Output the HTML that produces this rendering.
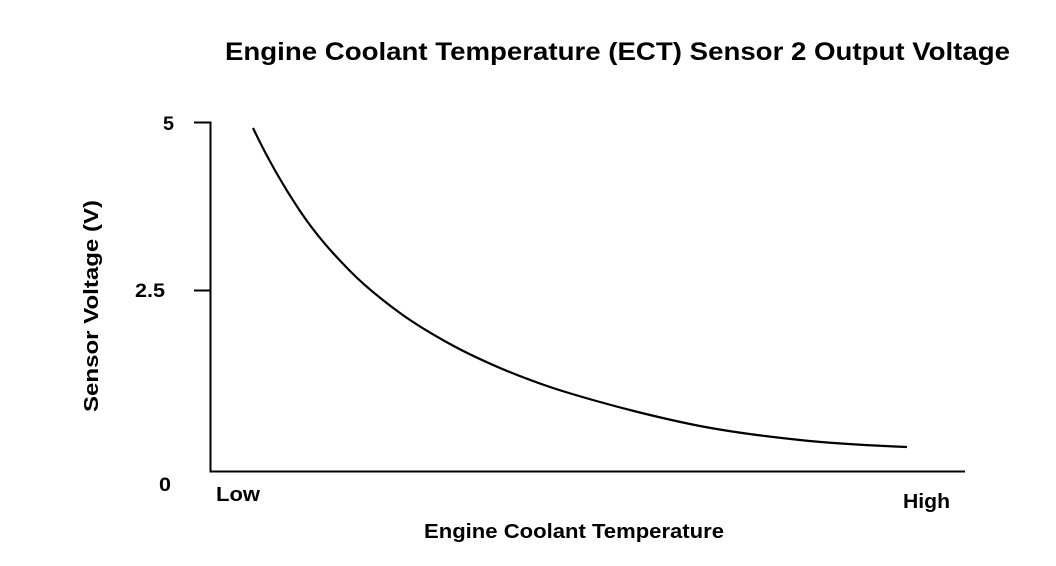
<!DOCTYPE html>
<html><head><meta charset="utf-8"><style>
html,body{margin:0;padding:0;background:#fff;width:1056px;height:566px;overflow:hidden}
text{font-family:"Liberation Sans",Arial,sans-serif;font-weight:bold;fill:#000}
</style></head><body>
<svg width="1056" height="566" viewBox="0 0 1056 566" xmlns="http://www.w3.org/2000/svg">
<text x="225" y="60" font-size="25" textLength="785" lengthAdjust="spacingAndGlyphs">Engine Coolant Temperature (ECT) Sensor 2 Output Voltage</text>
<path d="M194 122.5H210.5V471.5H965" fill="none" stroke="#000" stroke-width="2"/>
<path d="M194 290.5H210" stroke="#000" stroke-width="2"/>
<text x="163" y="130" font-size="19" textLength="11" lengthAdjust="spacingAndGlyphs">5</text>
<text x="135" y="297" font-size="19" textLength="30" lengthAdjust="spacingAndGlyphs">2.5</text>
<text x="159" y="491" font-size="19" textLength="12" lengthAdjust="spacingAndGlyphs">0</text>
<text x="216" y="501" font-size="20" textLength="44" lengthAdjust="spacingAndGlyphs">Low</text>
<text x="903" y="508" font-size="20" textLength="47" lengthAdjust="spacingAndGlyphs">High</text>
<text x="424" y="538" font-size="20" textLength="300" lengthAdjust="spacingAndGlyphs">Engine Coolant Temperature</text>
<text transform="translate(98 412) rotate(-90)" font-size="20" textLength="212" lengthAdjust="spacingAndGlyphs">Sensor Voltage (V)</text>
<path id="c" fill="none" stroke="#000" stroke-width="2.2"/>
</svg>
<script>
var P=[[253,128],[300,211],[350,271],[400,313],[450,344],[500,368],[550,387],[600,402],[650,415],[700,426],[800,440],[907,447]];
var n=P.length,d=[],m=[];
for(var i=0;i<n-1;i++)d.push((P[i+1][1]-P[i][1])/(P[i+1][0]-P[i][0]));
m[0]=d[0]*1.2;m[n-1]=d[n-2]*0.6;
for(var i=1;i<n-1;i++)m[i]=(d[i-1]*(P[i+1][0]-P[i][0])+d[i]*(P[i][0]-P[i-1][0]))/(P[i+1][0]-P[i-1][0]);
var s="M"+P[0][0]+" "+P[0][1];
for(var i=0;i<n-1;i++){var h=(P[i+1][0]-P[i][0])/3;
s+=" C"+(P[i][0]+h)+" "+(P[i][1]+m[i]*h)+" "+(P[i+1][0]-h)+" "+(P[i+1][1]-m[i+1]*h)+" "+P[i+1][0]+" "+P[i+1][1];}
document.getElementById("c").setAttribute("d",s);
</script>
</body></html>
